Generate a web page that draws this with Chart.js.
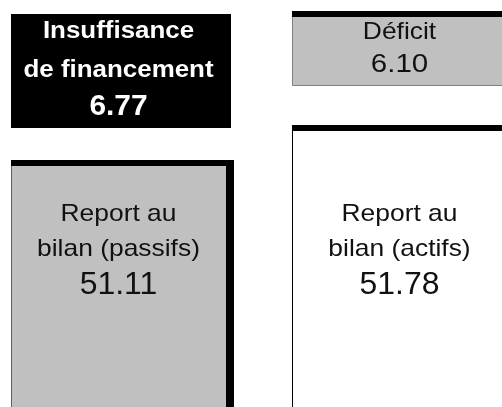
<!DOCTYPE html>
<html>
<head>
<meta charset="utf-8">
<script src="https://cdn.jsdelivr.net/npm/chart.js@4.4.1/dist/chart.umd.min.js"></script>
<style>
html, body { margin: 0; padding: 0; background: #fff; overflow: hidden; width: 502px; height: 407px; position: relative; }
#bilan { position: absolute; left: -22px; top: 0; }
</style>
</head>
<body>
<canvas id="bilan" width="562" height="460"></canvas>
<script>
var cotes = ['Passifs', 'Actifs'];
var hautNoms = [['Insuffisance', 'de financement'], ['Déficit']];
var hautValeurs = [6.77, 6.10];
var basNoms = [['Report au', 'bilan (passifs)'], ['Report au', 'bilan (actifs)']];
var basValeurs = [51.11, 51.78];

var HAUTEUR = 460;
var POLICE = '"Liberation Sans", Arial, Helvetica, sans-serif';

// une echelle par colonne : 0 en haut de la case du haut, la valeur du haut au debut de la case du bas
function axe(haut, coupure, valeur) {
    var k = (coupure - haut) / valeur;
    var min = -haut / k;
    return { display: false, reverse: true, stacked: true, bounds: 'data', min: min, max: min + HAUTEUR / k };
}

// habillage de chaque case (couleurs, ombre, texte)
// polices : [taille, etirement horizontal] pour les noms puis pour la valeur
var cases = [
    { col: 0, axe: 'yG', noms: hautNoms[0], valeur: hautValeurs[0], fond: '#000000', ecart: 38,
      ombre: [0, 5], contour: null, couleur: '#ffffff', gras: true,
      polices: [[24, 1.08], [29, 1.03]], lignes: [38, 77, 115] },
    { col: 0, axe: 'yG', noms: basNoms[0], valeur: basValeurs[0], fond: '#c0c0c0', ecart: 0,
      ombre: [6, 8], contour: '#606060', couleur: '#111111', gras: false,
      polices: [[24, 1.1], [31, 1.03]], lignes: [221, 256, 294] },
    { col: 1, axe: 'yD', noms: hautNoms[1], valeur: hautValeurs[1], fond: '#c0c0c0', ecart: 45,
      ombre: [6, 8], contour: '#808080', couleur: '#111111', gras: false,
      polices: [[24, 1.1], [25, 1.18]], lignes: [39, 72] },
    { col: 1, axe: 'yD', noms: basNoms[1], valeur: basValeurs[1], fond: '#ffffff', ecart: 0,
      ombre: [6, 8], contour: '#000000', couleur: '#111111', gras: false,
      polices: [[24, 1.1], [31, 1.03]], lignes: [221, 256, 294] }
];

var habillage = {
    id: 'habillage',
    afterDatasetsDraw: function (chart) {
        var ctx = chart.ctx;
        cases.forEach(function (c, i) {
            var el = chart.getDatasetMeta(i).data[c.col];
            var p = el.getProps(['x', 'y', 'base', 'width'], true);
            var gauche = p.x - p.width / 2;
            var droite = p.x + p.width / 2;
            var haut = Math.min(p.y, p.base);
            var bas = Math.max(p.y, p.base) - c.ecart;
            ctx.save();
            ctx.fillStyle = '#000000';
            if (c.ombre[0]) ctx.fillRect(gauche, haut - c.ombre[0], p.width + c.ombre[1], c.ombre[0]);
            if (c.ombre[1]) ctx.fillRect(droite, haut - c.ombre[0], c.ombre[1], bas - haut + c.ombre[0]);
            if (c.contour) {
                ctx.strokeStyle = c.contour;
                ctx.lineWidth = 1;
                ctx.beginPath();
                ctx.moveTo(gauche + 0.5, haut);
                ctx.lineTo(gauche + 0.5, bas - 0.5);
                ctx.lineTo(droite, bas - 0.5);
                ctx.stroke();
            }
            ctx.fillStyle = c.couleur;
            ctx.textAlign = 'center';
            ctx.textBaseline = 'alphabetic';
            var lignes = c.noms.concat([c.valeur.toFixed(2)]);
            lignes.forEach(function (t, k) {
                var pol = k < c.noms.length ? c.polices[0] : c.polices[1];
                ctx.save();
                ctx.font = (c.gras ? 'bold ' : '') + pol[0] + 'px ' + POLICE;
                ctx.translate(p.x, c.lignes[k]);
                ctx.scale(pol[1], 1);
                ctx.fillText(t, 0, 0);
                ctx.restore();
            });
            ctx.restore();
        });
    }
};

new Chart(document.getElementById('bilan'), {
    type: 'bar',
    data: {
        labels: cotes,
        datasets: cases.map(function (c) {
            return {
                label: c.noms.join(' '),
                data: cotes.map(function (_, j) { return j === c.col ? c.valeur : null; }),
                yAxisID: c.axe,
                backgroundColor: c.fond,
                borderColor: '#ffffff',
                borderWidth: { top: 0, right: 0, left: 0, bottom: c.ecart },
                borderSkipped: false,
                inflateAmount: 0,
                barThickness: 215
            };
        })
    },
    options: {
        responsive: false,
        animation: false,
        layout: { padding: 0 },
        plugins: { legend: { display: false }, tooltip: { enabled: false } },
        scales: {
            x: { display: false, stacked: true },
            yG: axe(14, 166, hautValeurs[0]),
            yD: axe(17, 131, hautValeurs[1])
        }
    },
    plugins: [habillage]
});
</script>
</body>
</html>
